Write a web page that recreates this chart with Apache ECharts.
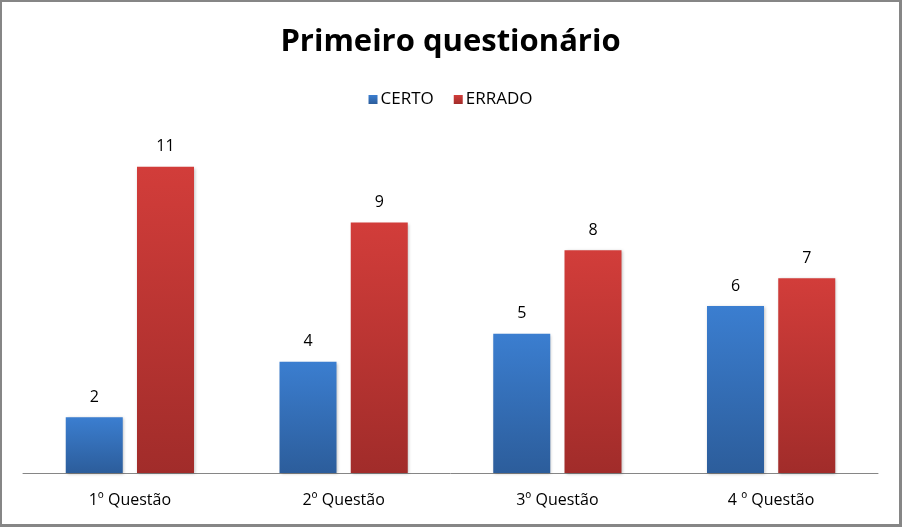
<!DOCTYPE html>
<html><head><meta charset="utf-8">
<script src="https://cdn.jsdelivr.net/npm/echarts@6/dist/echarts.min.js"></script>
<style>
html,body{margin:0;padding:0;background:#fff;}
#c{width:902px;height:527px;box-sizing:border-box;border-style:solid;border-color:#868686;border-width:2px 3px 3px 2px;}
</style></head><body>
<div id="c"></div>
<script>
const categories = ['1º Questão', '2º Questão', '3º Questão', '4 º Questão'];
const certo = [2, 4, 5, 6];
const errado = [11, 9, 8, 7];
const seriesNames = ['CERTO', 'ERRADO'];

const chart = echarts.init(document.getElementById('c'), null, {renderer: 'canvas'});
const font = '"Open Sans", "Noto Sans", sans-serif';
function grad(top, bottom) {
  return new echarts.graphic.LinearGradient(0, 0, 0, 1, [
    {offset: 0, color: top}, {offset: 1, color: bottom}
  ]);
}
chart.setOption({
  animation: false,
  backgroundColor: '#fff',
  title: {
    text: 'Primeiro questionário', left: 'center', top: 20,
    textStyle: {fontFamily: font, fontWeight: 'bold', fontSize: 31, color: '#000'}
  },
  legend: {
    data: seriesNames, top: 84, left: 'center', itemWidth: 9, itemHeight: 9, itemGap: 20,
    icon: 'rect',
    textStyle: {fontFamily: font, fontSize: 17, color: '#000', padding: [0, 0, 0, -2]}
  },
  grid: {left: 21, right: 21, top: 137, bottom: 51, containLabel: false},
  xAxis: {
    type: 'category', data: categories,
    axisLine: {lineStyle: {color: '#868686', width: 1}},
    axisTick: {show: false},
    axisLabel: {fontFamily: font, fontSize: 16, color: '#000', margin: 19}
  },
  yAxis: {
    type: 'value', min: 0, max: 12, interval: 1, show: false,
    splitLine: {show: false}
  },
  series: [
    {
      name: seriesNames[0], type: 'bar', data: certo, barWidth: 57, barGap: '25%',
      itemStyle: {color: grad('#3B7ED0', '#2C5D9B'), shadowColor: 'rgba(0,0,0,0.25)', shadowBlur: 3, shadowOffsetX: 1, shadowOffsetY: 1},
      label: {show: true, position: 'top', distance: 12, fontFamily: font, fontSize: 16, color: '#000'}
    },
    {
      name: seriesNames[1], type: 'bar', data: errado, barWidth: 57,
      itemStyle: {color: grad('#D23D3A', '#A12C2A'), shadowColor: 'rgba(0,0,0,0.25)', shadowBlur: 3, shadowOffsetX: 1, shadowOffsetY: 1},
      label: {show: true, position: 'top', distance: 12, fontFamily: font, fontSize: 16, color: '#000'}
    }
  ]
});
</script>
</body></html>
